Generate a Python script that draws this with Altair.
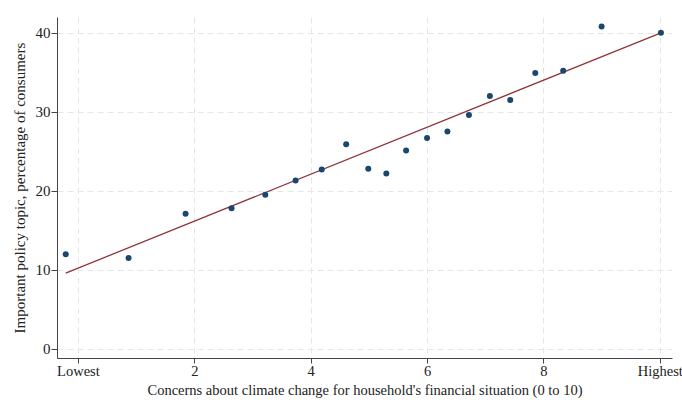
import altair as alt
import pandas as pd

concern = [-0.21, 0.87, 1.85, 2.64, 3.22, 3.74, 4.19, 4.61, 4.99, 5.30,
           5.64, 6.00, 6.35, 6.72, 7.08, 7.43, 7.86, 8.34, 9.00, 10.02]
share = [12.0, 11.5, 17.1, 17.8, 19.5, 21.3, 22.7, 25.9, 22.8, 22.2,
         25.1, 26.7, 27.5, 29.6, 32.0, 31.5, 34.9, 35.2, 40.8, 40.0]
fit_x = [-0.21, 10.02]
fit_y = [9.6, 40.0]
x_ticks = [0, 2, 4, 6, 8, 10]
y_ticks = [0, 10, 20, 30, 40]

pts = pd.DataFrame({"x": concern, "y": share})
fit = pd.DataFrame({"x": fit_x, "y": fit_y})

FONT = "Liberation Serif"

xs = alt.Scale(domain=[-0.36, 10.21], nice=False, zero=False)
ys = alt.Scale(domain=[-1.14, 42], nice=False, zero=False)

xaxis = alt.Axis(
    values=x_ticks, format="d",
    title="Concerns about climate change for household's financial situation (0 to 10)",
    labelExpr="datum.value == 0 ? 'Lowest' : (datum.value == 10 ? 'Highest' : datum.label)",
    grid=True, gridDash=[6, 4], gridColor="#e6e6e6", gridWidth=1,
    domainColor="#444", tickColor="#444", tickSize=5,
    labelFont=FONT, labelFontSize=14.5, labelColor="#222", labelPadding=1,
    titleFont=FONT, titleFontSize=14.5, titleFontWeight="normal", titleColor="#222",
    titlePadding=6,
)
yaxis = alt.Axis(
    values=y_ticks, format="d",
    title="Important policy topic, percentage of consumers",
    grid=True, gridDash=[6, 4], gridColor="#e6e6e6", gridWidth=1,
    domainColor="#444", tickColor="#444", tickSize=6,
    labelFont=FONT, labelFontSize=15, labelColor="#222", labelPadding=1,
    titleFont=FONT, titleFontSize=15, titleFontWeight="normal", titleColor="#222",
    titlePadding=8,
)

points = alt.Chart(pts).mark_circle(size=36, color="#1a476f", opacity=1).encode(
    x=alt.X("x:Q", scale=xs, axis=xaxis),
    y=alt.Y("y:Q", scale=ys, axis=yaxis),
)
line = alt.Chart(fit).mark_line(color="#90353b", strokeWidth=1.3).encode(
    x=alt.X("x:Q", scale=xs),
    y=alt.Y("y:Q", scale=ys),
)

chart = alt.layer(line, points).properties(
    width=615, height=341,
    autosize=alt.AutoSizeParams(type="none"),
    padding={"left": 57, "top": 17, "right": 10, "bottom": 42},
    background="white",
).configure_view(stroke=None)

chart.save("out.html", embed_options={"renderer": "svg", "actions": False})
